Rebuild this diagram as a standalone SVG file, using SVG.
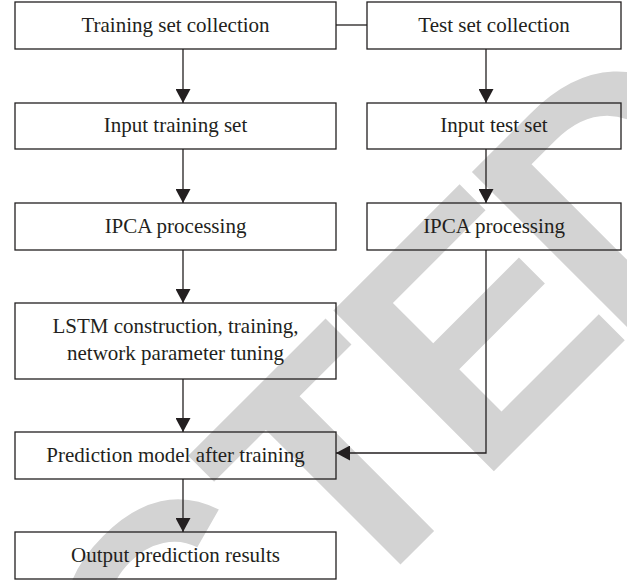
<svg xmlns="http://www.w3.org/2000/svg" width="627" height="580" viewBox="0 0 627 580">
  <style>
    .box { fill: none; stroke: #231f20; stroke-width: 1.3; }
    .lbl { font-family: "Liberation Serif", "Times New Roman", serif; font-size: 21px; fill: #231f20; text-anchor: middle; }
    .wire { fill: none; stroke: #231f20; stroke-width: 1.3; }
    .wm { font-family: "Liberation Sans", Arial, sans-serif; font-weight: bold; font-size: 330px; fill: #d3d3d3; }
  </style>
  <defs>
    <marker id="ah" markerWidth="14" markerHeight="15" refX="14" refY="7.5" orient="auto" markerUnits="userSpaceOnUse">
      <path d="M0,0 L14,7.5 L0,15 Z" fill="#231f20"/>
    </marker>
  </defs>
  <rect width="627" height="580" fill="#ffffff"/>

  <!-- watermark stamp, letters spaced by hand -->
  <text class="wm" transform="translate(482.5,482.5) rotate(-45)" x="-1568 -1330 -1110 -908 -670 -432 -193 -6 190">RETRACTED</text>

  <g id="train-collect">
    <rect class="box" x="15" y="2" width="321" height="47"/>
    <text class="lbl" x="175.5" y="32">Training set collection</text>
  </g>
  <g id="test-collect">
    <rect class="box" x="367" y="2" width="254" height="47"/>
    <text class="lbl" x="494" y="32">Test set collection</text>
  </g>
  <g id="train-input">
    <rect class="box" x="15" y="103" width="321" height="46"/>
    <text class="lbl" x="175.5" y="132">Input training set</text>
  </g>
  <g id="test-input">
    <rect class="box" x="367" y="103" width="254" height="46"/>
    <text class="lbl" x="494" y="132">Input test set</text>
  </g>
  <g id="train-ipca">
    <rect class="box" x="15" y="203" width="321" height="47"/>
    <text class="lbl" x="175.5" y="233">IPCA processing</text>
  </g>
  <g id="test-ipca">
    <rect class="box" x="367" y="203" width="254" height="47"/>
    <text class="lbl" x="494" y="233">IPCA processing</text>
  </g>
  <g id="lstm">
    <rect class="box" x="15" y="303" width="321" height="76"/>
    <text class="lbl" x="175.5" y="333">LSTM construction, training,</text>
    <text class="lbl" x="175.5" y="360">network parameter tuning</text>
  </g>
  <g id="model">
    <rect class="box" x="15" y="432" width="321" height="47"/>
    <text class="lbl" x="175.5" y="462">Prediction model after training</text>
  </g>
  <g id="output">
    <rect class="box" x="15" y="532" width="321" height="47"/>
    <text class="lbl" x="175.5" y="562">Output prediction results</text>
  </g>

  <g id="connectors">
    <line class="wire" x1="336" y1="25" x2="367" y2="25"/>
    <line class="wire" x1="183" y1="49" x2="183" y2="103" marker-end="url(#ah)"/>
    <line class="wire" x1="183" y1="149" x2="183" y2="203" marker-end="url(#ah)"/>
    <line class="wire" x1="183" y1="250" x2="183" y2="303" marker-end="url(#ah)"/>
    <line class="wire" x1="183" y1="379" x2="183" y2="432" marker-end="url(#ah)"/>
    <line class="wire" x1="183" y1="479" x2="183" y2="532" marker-end="url(#ah)"/>
    <line class="wire" x1="486" y1="49" x2="486" y2="103" marker-end="url(#ah)"/>
    <line class="wire" x1="486" y1="149" x2="486" y2="203" marker-end="url(#ah)"/>
    <polyline class="wire" points="486,250 486,453 336,453" marker-end="url(#ah)"/>
  </g>
</svg>
